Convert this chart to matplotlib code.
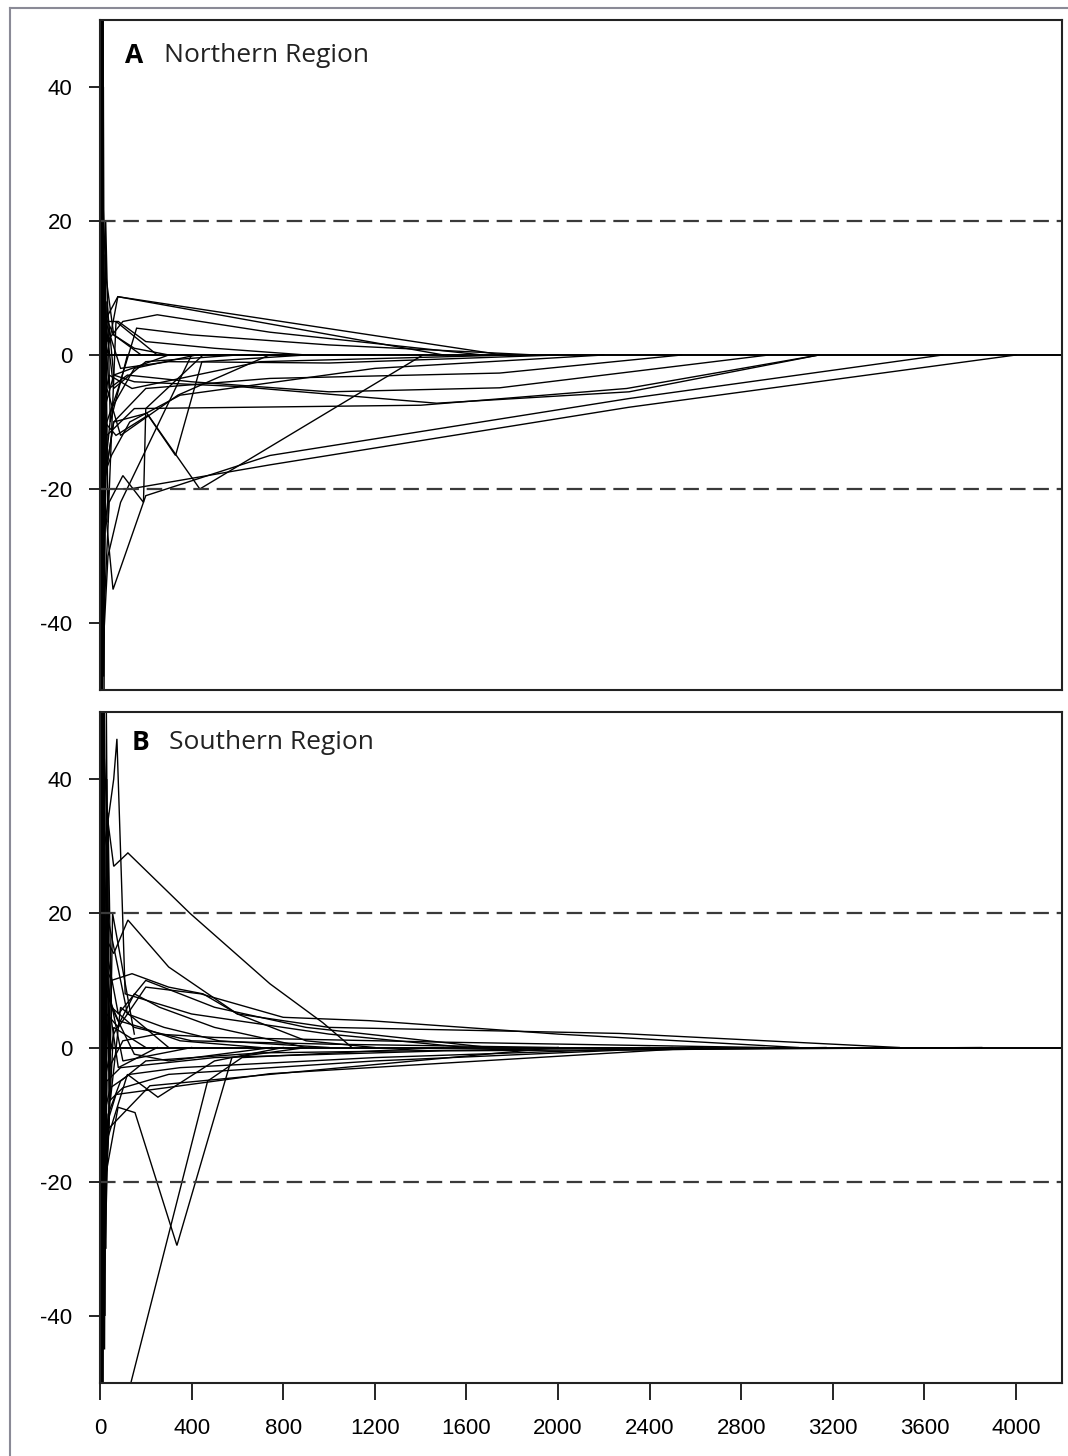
import matplotlib.pyplot as plt
from matplotlib.lines import Line2D

# Data: cumulative sample size (x) vs cumulative deviation (y), one list per trajectory
north_x = [
    [2, 8, 40, 130, 742, 2310, 4000],
    [3, 15, 57, 200, 742, 2310, 3680],
    [3, 20, 60, 150, 600, 1470, 2310, 3140],
    [2, 30, 150, 1400, 2300, 3140],
    [4, 40, 120, 400, 1000, 1745, 2920],
    [3, 15, 60, 200, 742, 1745, 2540],
    [5, 25, 90, 300, 1000, 2000],
    [3, 20, 78, 1758],
    [5, 30, 100, 250, 742, 1670],
    [3, 15, 60, 205, 436, 1410],
    [2, 10, 25, 60, 180, 740],
    [3, 20, 50, 150, 420, 1000],
    [4, 30, 90, 340, 740],
    [5, 40, 100, 190, 200, 450],
    [3, 20, 70, 210, 330, 445, 900],
    [5, 25, 60, 200, 600, 1200],
    [2, 10, 40, 140, 700, 1800],
    [4, 20, 60, 150, 300, 600],
    [6, 30, 80, 160, 400, 1000, 1900],
    [2, 6, 12, 35, 90, 400],
    [1, 5, 30, 78, 763, 1500],
    [3, 10, 30, 80, 200, 500, 900],
    [4, 18, 50, 130, 350, 1200, 2200],
    [1, 4, 7, 10, 14, 18, 25, 45, 120],
    [2, 5, 9, 12, 16, 22, 35, 70, 250],
    [1, 3, 6, 11, 15, 20, 30, 60, 300],
]
north_y = [
    [-60, -30, -20, -20, -16.4, -7.8, 0],
    [55, -20, -35, -21, -15, -6.5, 0],
    [30, -8, -3, -4, -4.7, -7.2, -5.5, 0],
    [-60, -12, -8, -7.5, -5, 0],
    [12, -5, -3, -4, -5.5, -4.9, 0],
    [-50, -20, -10, -5, -3.5, -2.7, 0],
    [20, 5, -2, -1, -1.2, 0],
    [-15, 5, 8.7, 0],
    [20, 2, 5, 6, 3.4, 0],
    [-40, -20, -10, -8.7, -20, 0],
    [60, 26, 12, 3, 0, 0],
    [-30, -18, -8, -2, 0, 0],
    [10, -5, -12, -6, 0],
    [-48, -22, -18, -22, -8, 0],
    [40, -10, -12, -9, -15, -1, 0],
    [15, 5, -5, -1, 0, 0],
    [-20, -8, -3, -5, -1, 0],
    [20, 6, 3, 1, 0, 0],
    [-30, -10, -5, 4, 3, 1.5, 0],
    [-60, 45, -45, -30, -22, 0],
    [60, -60, 0, 8.7, 4.5, 0],
    [-25, -10, 5, 5, 2, 1, 0],
    [-45, -18, -15, -10, -6, -2, 0],
    [60, -60, 60, -60, 50, -50, 20, -10, 0],
    [-60, 60, -60, 55, -48, 15, -25, 5, 0],
    [60, -60, 60, -60, 40, -33, 8, -3, 0],
]

south_x = [
    [3, 30, 60, 122, 393, 742, 973, 1100],
    [4, 30, 60, 122, 300, 600, 900, 1200],
    [3, 20, 79, 153, 336, 576, 900],
    [90, 470, 620, 1500],
    [5, 20, 60, 74, 110, 400, 1000, 1600],
    [3, 25, 50, 140, 300, 450, 600, 1000, 2268, 3490],
    [5, 30, 80, 200, 440, 800, 1178, 2000, 3050],
    [4, 20, 60, 150, 260, 500, 900],
    [6, 40, 100, 300, 1200, 2268, 3170],
    [3, 25, 70, 742, 2195, 2630],
    [5, 30, 90, 500, 1500, 3850],
    [3, 15, 50, 150, 400, 1000, 2000],
    [4, 20, 120, 253, 500, 800],
    [3, 10, 40, 100, 250, 500, 1500, 2900],
    [5, 30, 80, 180, 350, 700],
    [3, 12, 35, 90, 200, 700, 2400],
    [4, 20, 50, 150, 300, 750],
    [3, 18, 45, 130, 350, 1200, 2500],
    [6, 25, 80, 200, 500, 900, 1700],
    [2, 10, 30, 120, 280, 520, 1000],
    [3, 15, 40, 218, 742, 2000],
    [1, 3, 6, 10, 25, 60, 200],
    [2, 5, 8, 14, 30, 100, 400],
    [1, 4, 8, 12, 17, 22, 30, 45, 90, 300],
    [2, 6, 10, 15, 20, 28, 40, 55, 150],
    [1, 3, 7, 13, 19, 26, 35, 50, 80, 250],
]
south_y = [
    [55, 35, 27, 29, 20, 9.5, 3.7, 0],
    [-40, 16, 14, 19, 12, 5, 1, 0],
    [-50, -20, -8.9, -9.7, -29.5, -1.5, 0],
    [-56, -5, -1.5, 0],
    [-40, 30, 40, 46, 8, 5, 2, 0],
    [50, 12, 10, 11, 9, 8, 5, 3, 2.1, 0],
    [-30, 5, 3, 9, 8, 4.5, 4, 2, 0],
    [45, -5, 2, 8, 6, 3, 0],
    [-50, -8, -6, -4, -2, -0.4, 0],
    [30, -12, -7, -3.9, -0.9, 0],
    [-45, -5, -3, -1.5, -0.5, 0],
    [50, 15, 6, 3, 1, 0.5, 0],
    [-50, -15, -4, -7.4, -2, 0],
    [40, 20, -3, 1, 2, 1.5, 0.8, 0],
    [-20, 8, 4, 3, 1, 0],
    [-50, -30, -10, -5, -2, -0.8, 0],
    [35, 10, 6, -1, -2, 0],
    [20, -10, -6, -4, -3, -1.5, 0],
    [-35, 15, 5, 10, 6, 3, 0],
    [50, 30, 20, 5, 3, 1, 0],
    [-50, -25, -12, -5.7, -4, 0],
    [-60, 60, -60, 60, -20, 3, 0],
    [60, -60, 60, -45, 10, -2, 0],
    [60, -60, 60, -60, 60, -40, 40, -8, 6, 0],
    [-60, 60, -60, 60, -45, 50, -12, 20, 2],
    [60, -60, 60, -60, 55, -30, 35, 4, -3, 0],
]

panel_letters = ["A", "B"]
panel_names = ["Northern Region", "Southern Region"]
y_ticks = [-40, -20, 0, 20, 40]
x_ticks = [0, 400, 800, 1200, 1600, 2000, 2400, 2800, 3200, 3600, 4000]
limit = 20

fig = plt.figure(figsize=(10.68, 14.56), dpi=100)
ax_top = fig.add_axes([0.0936, 0.5261, 0.9007, 0.4602])
ax_bot = fig.add_axes([0.0936, 0.0501, 0.9007, 0.4609])

tick_font = dict(family=["Liberation Sans", "DejaVu Sans"], size=16)
letter_pos = [(0.026, 0.947), (0.033, 0.955)]
name_pos = [(0.067, 0.947), (0.072, 0.955)]

for i, (ax, xs, ys) in enumerate([(ax_top, north_x, north_y), (ax_bot, south_x, south_y)]):
    for x, y in zip(xs, ys):
        ax.plot(x, y, color="black", lw=1.0, solid_joinstyle="miter")
    ax.axhline(0, color="black", lw=1.4)
    ax.axhline(limit, color="#3a3a3a", lw=1.6, ls=(0, (7, 3.5)))
    ax.axhline(-limit, color="#3a3a3a", lw=1.6, ls=(0, (7, 3.5)))
    ax.set_xlim(0, 4200)
    ax.set_ylim(-50, 50)
    ax.set_yticks(y_ticks)
    ax.set_yticklabels([str(v) for v in y_ticks], **tick_font)
    ax.tick_params(axis="y", direction="out", length=8, width=1.2, pad=12)
    for s in ax.spines.values():
        s.set_linewidth(1.5)
        s.set_color("#222222")
    ax.text(*letter_pos[i], panel_letters[i], transform=ax.transAxes, fontsize=19,
            fontweight="bold", family="Open Sans", va="center", ha="left")
    ax.text(*name_pos[i], panel_names[i], transform=ax.transAxes, fontsize=19,
            family="Open Sans", va="center", ha="left", color="#222222")

ax_top.set_xticks([])
ax_bot.set_xticks(x_ticks)
ax_bot.set_xticklabels([str(v) for v in x_ticks], **tick_font)
ax_bot.tick_params(axis="x", direction="out", length=12, width=1.2, pad=13)

# thin grey frame around the figure
fig.add_artist(Line2D([10 / 1068, 1], [1 - 8 / 1456, 1 - 8 / 1456], color="#8a8a96", lw=1.5))
fig.add_artist(Line2D([10 / 1068, 10 / 1068], [0, 1 - 8 / 1456], color="#8a8a96", lw=1.5))

fig.savefig("out.png", dpi=100)
